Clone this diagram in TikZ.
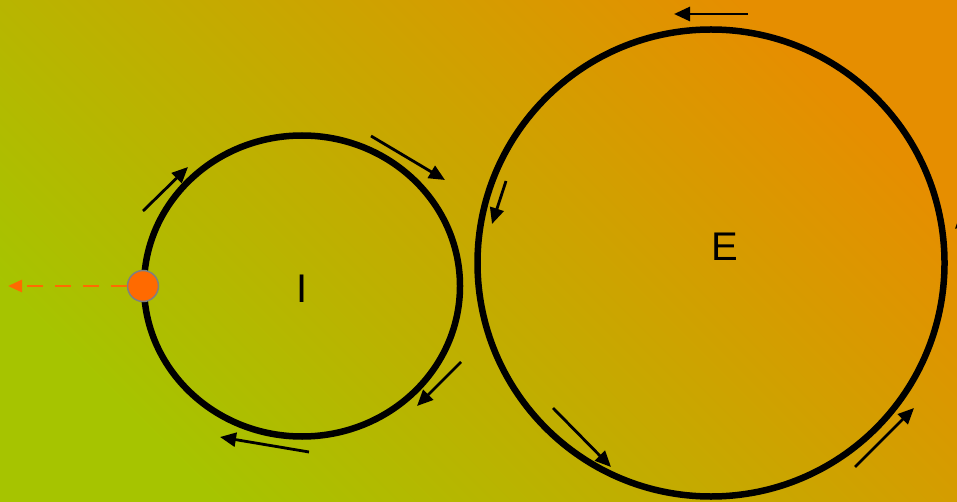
\documentclass[tikz,border=0pt]{standalone}
\usepackage{fontspec}
\setmainfont{Liberation Sans}
\usetikzlibrary{arrows.meta, shapes.geometric}
\definecolor{bgleaf}{HTML}{A6C400}
\definecolor{bgmid}{HTML}{C9B200}
\definecolor{bgamber}{HTML}{E68E00}
\definecolor{dotorange}{HTML}{FF6A00}

\begin{document}
\begin{tikzpicture}[x=1pt, y=-1pt, >={Triangle[length=16pt, width=14pt]},
                    ring/.style={ellipse, draw=black, line width=6.5pt, inner sep=0pt},
                    flow/.style={->, line width=2.8pt},
                    letter/.style={font=\fontsize{40}{40}\selectfont}]

    % background
    \shade[bottom color=bgleaf, middle color=bgmid, top color=bgamber, shading angle=-45]
        (0,0) rectangle (957,502);
    \useasboundingbox (0,0) rectangle (957,502);
    \clip (0,0) rectangle (957,502);

    % the two rings
    \node[ring, minimum width=316pt, minimum height=301pt] (inner) at (302,286) {};
    \node[ring, minimum width=467pt, minimum height=467pt] (outer) at (711,263) {};
    \node[letter] (ilabel) at (302,289) {I};
    \node[letter] (elabel) at (725,247) {E};

    % source point and its escape
    \node[circle, fill=dotorange, draw=gray, line width=1.5pt, minimum size=31pt, inner sep=0pt] (src) at (143,286) {};
    \coordinate (away) at (8,286);
    \draw[flow, dotorange, dash pattern=on 16pt off 12pt, >={Triangle[length=14pt, width=12pt]}] (src) -- (away);

    % direction markers, inner ring
    \draw[flow] (143,211) -- (188,167);
    \draw[flow] (371,136) -- (445,180);
    \draw[flow] (461,362) -- (417,406);
    \draw[flow] (309,452) -- (220,437);

    % direction markers, outer ring
    \draw[flow] (506,181) -- (492,224);
    \draw[flow] (553,408) -- (611,467);
    \draw[flow] (855,467) -- (914,408);
    \draw[flow] (748,14) -- (674,14);
    \draw[flow] (968,290) -- (961,212);

\end{tikzpicture}
\end{document}
